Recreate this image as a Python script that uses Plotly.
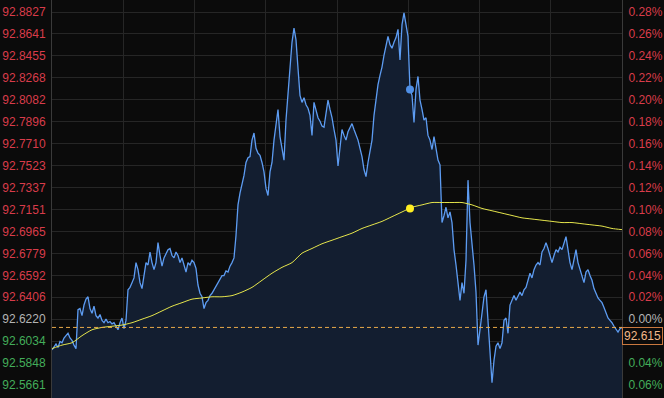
import plotly.graph_objects as go

# ---------------- data ----------------
prev_close = 92.622
last_price = 92.615

price = [
    92.596, 92.599, 92.601, 92.598, 92.603, 92.602, 92.606, 92.608, 92.610, 92.606,
    92.604, 92.600, 92.597, 92.630, 92.631, 92.625, 92.634, 92.639, 92.641, 92.631,
    92.627, 92.633, 92.625, 92.623, 92.626, 92.621, 92.619, 92.622, 92.619, 92.620,
    92.618, 92.619, 92.616, 92.613, 92.619, 92.623, 92.614, 92.621, 92.647, 92.649,
    92.653, 92.657, 92.670, 92.664, 92.653, 92.648, 92.659, 92.670, 92.668, 92.679,
    92.670, 92.664, 92.670, 92.687, 92.676, 92.667, 92.674, 92.678, 92.681, 92.682,
    92.676, 92.674, 92.679, 92.676, 92.670, 92.674, 92.667, 92.662, 92.670, 92.668,
    92.672, 92.670, 92.665, 92.651, 92.644, 92.641, 92.631, 92.636, 92.638, 92.642,
    92.644, 92.647, 92.650, 92.653, 92.655, 92.659, 92.659, 92.663, 92.662, 92.667,
    92.670, 92.674, 92.693, 92.719, 92.729, 92.736, 92.744, 92.755, 92.759, 92.760,
    92.774, 92.780, 92.767, 92.763, 92.761, 92.755, 92.747, 92.733, 92.727, 92.747,
    92.755, 92.774, 92.787, 92.800, 92.777, 92.766, 92.757, 92.791, 92.812, 92.838,
    92.857, 92.869, 92.859, 92.835, 92.812, 92.806, 92.810, 92.804, 92.801, 92.795,
    92.778, 92.806, 92.800, 92.793, 92.790, 92.786, 92.785, 92.795, 92.808, 92.800,
    92.793, 92.783, 92.774, 92.752, 92.766, 92.783, 92.778, 92.774, 92.781, 92.784,
    92.788, 92.783, 92.778, 92.774, 92.767, 92.760, 92.749, 92.743, 92.755, 92.766,
    92.774, 92.795, 92.808, 92.821, 92.829, 92.836, 92.846, 92.855, 92.862, 92.855,
    92.852, 92.857, 92.861, 92.868, 92.842, 92.872, 92.882, 92.872, 92.862, 92.817,
    92.812, 92.789, 92.817, 92.828, 92.808, 92.800, 92.791, 92.793, 92.778, 92.774,
    92.766, 92.777, 92.766, 92.757, 92.753, 92.704, 92.710, 92.717, 92.708, 92.713,
    92.704, 92.681, 92.668, 92.651, 92.638, 92.653, 92.644, 92.672, 92.740, 92.704,
    92.687, 92.668, 92.645, 92.600, 92.613, 92.627, 92.641, 92.647, 92.623, 92.598,
    92.568, 92.587, 92.599, 92.602, 92.597, 92.602, 92.621, 92.623, 92.610, 92.634,
    92.638, 92.642, 92.638, 92.641, 92.645, 92.642, 92.647, 92.649, 92.655, 92.661,
    92.657, 92.664, 92.668, 92.670, 92.668, 92.679, 92.682, 92.687, 92.682, 92.676,
    92.670, 92.676, 92.681, 92.679, 92.683, 92.681, 92.687, 92.692, 92.681, 92.670,
    92.664, 92.674, 92.681, 92.670, 92.664, 92.658, 92.653, 92.662, 92.664, 92.659,
    92.655, 92.648, 92.644, 92.640, 92.638, 92.636, 92.632, 92.627, 92.623, 92.621,
    92.619, 92.616, 92.613, 92.611, 92.614, 92.615,
]

# average price line, sampled every 5 points
avg_idx = list(range(0, 286, 5))
avg_price = [
    92.597, 92.600, 92.602, 92.608, 92.613, 92.615, 92.616, 92.617, 92.619, 92.622,
    92.625, 92.629, 92.633, 92.636, 92.639, 92.640, 92.641, 92.641, 92.642, 92.645,
    92.649, 92.655, 92.661, 92.666, 92.670, 92.678, 92.682, 92.686, 92.689, 92.692,
    92.695, 92.699, 92.702, 92.705, 92.709, 92.713, 92.717, 92.719, 92.721, 92.721,
    92.721, 92.721, 92.719, 92.716, 92.714, 92.712, 92.710, 92.708, 92.707, 92.706,
    92.705, 92.704, 92.704, 92.703, 92.702, 92.701, 92.699, 92.698,
]

hover_idx = 179
hover_avg = 92.716

tick_vals = [92.8827, 92.8641, 92.8455, 92.8268, 92.8082, 92.7896, 92.7710, 92.7523,
             92.7337, 92.7151, 92.6965, 92.6779, 92.6592, 92.6406, 92.6220, 92.6034,
             92.5848, 92.5661]
pct_labels = ["0.28%", "0.26%", "0.24%", "0.22%", "0.20%", "0.18%", "0.16%", "0.14%",
              "0.12%", "0.10%", "0.08%", "0.06%", "0.04%", "0.02%", "0.00%", "",
              "0.04%", "0.06%"]

# ---------------- style ----------------
BG = "#0b0b0b"
GRID = "#262626"
RED = "#d93c4a"
GREY = "#b4b4b4"
GREEN = "#43ad5a"
BLUE = "#5d9cf2"
YELLOW = "#e6e64c"

def col(v):
    if abs(v - prev_close) < 1e-4:
        return GREY
    return RED if v > prev_close else GREEN

left_text = [f"<span style='color:{col(v)}'>{v:.4f}</span>" for v in tick_vals]
right_text = [f"<span style='color:{col(v)}'>{t}</span>" if t else "" for v, t in zip(tick_vals, pct_labels)]

x = list(range(len(price)))
n = len(price) - 1
yr = [92.5551, 92.8929]

fig = go.Figure()
fig.add_trace(go.Scatter(x=x, y=price, mode="lines", line=dict(color=BLUE, width=1.3),
                         fill="tozeroy", fillcolor="#131e30", hoverinfo="skip"))
fig.add_trace(go.Scatter(x=avg_idx, y=avg_price, mode="lines",
                         line=dict(color=YELLOW, width=1, shape="spline", smoothing=0.6),
                         hoverinfo="skip"))
fig.add_trace(go.Scatter(x=[hover_idx], y=[price[hover_idx]], mode="markers",
                         marker=dict(color="#4f8fe6", size=8)))
fig.add_trace(go.Scatter(x=[hover_idx], y=[hover_avg], mode="markers",
                         marker=dict(color="#ffee22", size=8)))
fig.add_trace(go.Scatter(x=[0], y=[yr[0]], yaxis="y2", mode="markers",
                         marker=dict(opacity=0), hoverinfo="skip"))

fig.add_shape(type="line", xref="x", yref="y", x0=0, x1=n, y0=last_price, y1=last_price,
              line=dict(color="#e8a94a", width=1, dash="4px,3px"), layer="above")

fig.add_annotation(xref="paper", x=1.0, xanchor="left", yref="y", y=last_price, yanchor="top",
                   text="92.615", showarrow=False, font=dict(color="#f2b98a", size=12),
                   bgcolor=BG, bordercolor="#c9783f", borderwidth=1, borderpad=1, xshift=0)

fig.update_layout(
    width=664, height=398,
    margin=dict(l=52, r=42, t=0, b=0),
    paper_bgcolor=BG, plot_bgcolor=BG,
    showlegend=False,
    font=dict(family="Arial, Liberation Sans, sans-serif", size=12),
    xaxis=dict(range=[0, n], showticklabels=False, ticks="",
               tickvals=[n * k / 8 for k in range(1, 8)],
               showgrid=True, gridcolor=GRID, gridwidth=1, zeroline=False, showline=False),
    yaxis=dict(range=yr, tickvals=tick_vals, ticktext=left_text, showgrid=True,
               gridcolor=GRID, gridwidth=1, zeroline=False, showline=True,
               linecolor="#3a3a3a", linewidth=1, ticks="", ticklabelstandoff=3),
    yaxis2=dict(range=yr, overlaying="y", side="right", tickvals=tick_vals,
                ticktext=right_text, showgrid=False, zeroline=False, showline=True,
                linecolor="#3a3a3a", linewidth=1, ticks="", ticklabelstandoff=3),
)

fig.write_html("out.html")
